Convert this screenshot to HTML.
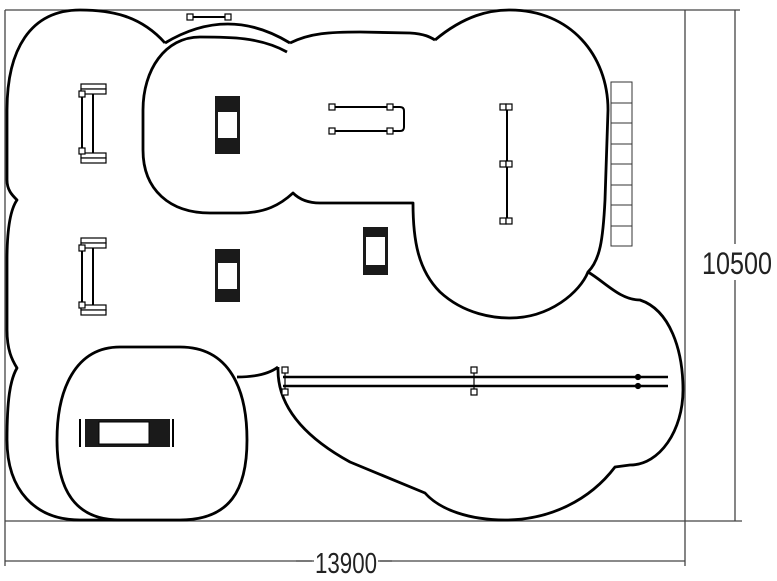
<!DOCTYPE html>
<html><head><meta charset="utf-8"><style>
html,body{margin:0;padding:0;background:#fff;width:777px;height:581px;overflow:hidden}
svg{display:block}
text{font-family:"Liberation Sans",sans-serif;fill:#222}
</style></head><body>
<svg width="777" height="581" viewBox="0 0 777 581" xmlns="http://www.w3.org/2000/svg">
<g stroke="#444" stroke-width="1.3" fill="none">
<line x1="5" y1="10" x2="740" y2="10"/>
<line x1="5" y1="10" x2="5" y2="566"/>
<line x1="5" y1="521" x2="742" y2="521"/>
<line x1="685" y1="10" x2="685" y2="566"/>
<line x1="735" y1="10" x2="735" y2="521"/>
<line x1="5" y1="561" x2="685" y2="561"/>
</g>
<rect x="700" y="244" width="74" height="36" fill="#fff"/>
<text transform="translate(737,274) scale(1,1.3)" font-size="24" text-anchor="middle" textLength="70" lengthAdjust="spacingAndGlyphs">10500</text>
<rect x="312" y="544" width="68" height="32" fill="#fff"/>
<line x1="296" y1="561" x2="314" y2="561" stroke="#444" stroke-width="1.3"/>
<line x1="378" y1="561" x2="392" y2="561" stroke="#444" stroke-width="1.3"/>
<text transform="translate(346,573) scale(1,1.3)" font-size="22" text-anchor="middle" textLength="62" lengthAdjust="spacingAndGlyphs">13900</text>

<g stroke="#000" stroke-width="2.8" fill="none" stroke-linejoin="round">
<path d="M165,43 C140,15 110,10 80,10 C30,10 7,50 7,110 L7,180 C7,190 12,195 17,200 C10,210 7,230 7,260 L7,330 C7,350 12,360 17,368 C10,380 7,400 7,440 C7,490 35,520 80,520 L120,520"/>
<path d="M120,347 L180,347 C230,347 247,390 247,440 C247,490 230,520 180,520 L120,520 C75,520 57,490 57,440 C57,390 75,347 120,347 Z"/>
<path d="M237,377 Q265,377 278,367"/>
<path d="M165,43 Q228,5 290,43"/>
<path d="M290,43 C310,33 330,32 360,32 L410,33 C425,34 430,37 435,40"/>
<path d="M435,40 C465,15 490,10 510,10 C570,10 608,55 608,110 L605,200 C603,240 600,260 588,272 C605,282 620,300 640,300 C670,310 683,350 683,390 C683,430 660,465 630,465 L615,467 C590,500 550,520 505,520 C470,520 440,510 425,493 L350,462 C310,440 278,410 278,370 L278,367"/>
<path d="M287,52 C260,37 230,37 200,37 C165,37 143,70 143,110 L143,150 C143,190 170,213 210,213 L240,213 C265,213 280,205 293,193 C300,200 310,203 320,203 L413,203 C413,240 418,270 440,292 C465,315 495,318 510,318 C550,318 580,292 588,272"/>
</g>

<g stroke="#000" stroke-width="1.2" fill="#fff">
<line x1="190" y1="17" x2="228" y2="17" stroke-width="2"/>
<rect x="187" y="14" width="6" height="6"/><rect x="225" y="14" width="6" height="6"/>
<line x1="82" y1="94" x2="82" y2="152" stroke-width="2"/><line x1="93" y1="90" x2="93" y2="156" stroke-width="2"/>
<rect x="81" y="84" width="25" height="5"/><rect x="81" y="89" width="25" height="5"/>
<rect x="81" y="153" width="25" height="5"/><rect x="81" y="158" width="25" height="5"/>
<rect x="79" y="91" width="6" height="6"/><rect x="79" y="148" width="6" height="6"/>
<line x1="82" y1="248" x2="82" y2="308" stroke-width="2"/><line x1="93" y1="240" x2="93" y2="312" stroke-width="2"/>
<rect x="81" y="238" width="25" height="5"/><rect x="81" y="243" width="25" height="5"/>
<rect x="81" y="305" width="25" height="5"/><rect x="81" y="310" width="25" height="5"/>
<rect x="79" y="245" width="6" height="6"/><rect x="79" y="302" width="6" height="6"/>
<path d="M335,107 L400,107 Q404,107 404,111 L404,127 Q404,131 400,131 L335,131" fill="none" stroke-width="2"/>
<rect x="329" y="104" width="6" height="6"/><rect x="387" y="104" width="6" height="6"/>
<rect x="329" y="128" width="6" height="6"/><rect x="387" y="128" width="6" height="6"/>
<line x1="507" y1="107" x2="507" y2="221" stroke-width="2"/>
<rect x="500" y="104" width="6" height="6"/><rect x="506" y="104" width="6" height="6"/>
<rect x="500" y="161" width="6" height="6"/><rect x="506" y="161" width="6" height="6"/>
<rect x="500" y="218" width="6" height="6"/><rect x="506" y="218" width="6" height="6"/>
</g>
<g stroke="#333" stroke-width="1" fill="#fff">
<rect x="611" y="82" width="21" height="164"/>
<line x1="611" y1="103" x2="632" y2="103"/><line x1="611" y1="123" x2="632" y2="123"/>
<line x1="611" y1="144" x2="632" y2="144"/><line x1="611" y1="164" x2="632" y2="164"/>
<line x1="611" y1="185" x2="632" y2="185"/><line x1="611" y1="205" x2="632" y2="205"/>
<line x1="611" y1="226" x2="632" y2="226"/>
</g>
<g>
<rect x="215" y="96" width="25" height="58" fill="#1a1a1a"/><rect x="218" y="112" width="19" height="26" fill="#fff"/>
<rect x="215" y="249" width="25" height="53" fill="#1a1a1a"/><rect x="218" y="263" width="19" height="26" fill="#fff"/>
<rect x="363" y="227" width="25" height="48" fill="#1a1a1a"/><rect x="366" y="237" width="19" height="28" fill="#fff"/>
<rect x="85" y="419" width="85" height="28" fill="#1a1a1a"/><rect x="99" y="422" width="50" height="22" fill="#fff" stroke="#000"/>
<line x1="80" y1="419" x2="80" y2="447" stroke="#000" stroke-width="2"/>
<line x1="173" y1="419" x2="173" y2="447" stroke="#000" stroke-width="2"/>
</g>
<g stroke="#000" fill="#fff" stroke-width="1.2">
<line x1="283" y1="377" x2="668" y2="377" stroke-width="2.5"/>
<line x1="283" y1="386" x2="668" y2="386" stroke-width="2.5"/>
<line x1="285" y1="372" x2="285" y2="390"/><line x1="474" y1="372" x2="474" y2="390"/>
<rect x="282" y="367" width="6" height="6"/><rect x="282" y="389" width="6" height="6"/>
<rect x="471" y="367" width="6" height="6"/><rect x="471" y="389" width="6" height="6"/>
<circle cx="638" cy="377" r="2.5" fill="#000"/><circle cx="638" cy="386" r="2.5" fill="#000"/>
</g>
</svg>
</body></html>
